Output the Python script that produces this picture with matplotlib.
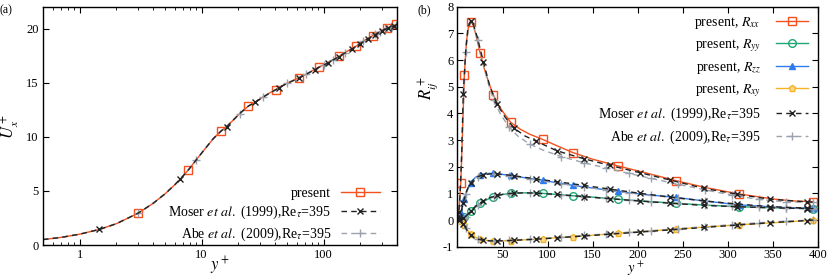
import numpy as np
import matplotlib
matplotlib.use('Agg')
import matplotlib.pyplot as plt
from matplotlib.ticker import FixedLocator, FuncFormatter, LogLocator, NullFormatter

plt.rcParams['font.family'] = ['Liberation Serif', 'DejaVu Serif']
plt.rcParams['mathtext.fontset'] = 'stix'

# ---- panel (a): mean velocity, shared y+ grid ----
yp_a = [0.5, 0.7, 1.0, 1.45, 2.0, 3.0, 4.0, 5.0, 6.0, 6.7, 7.8, 9.0, 10.5, 12.5, 14.5, 16.0,
        18.0, 20.5, 24.2, 27.4, 32.0, 36.0, 40.5, 43.2, 50.0, 56.0, 62.4, 72.0, 85.0, 91.4,
        100.0, 108.0, 120.0, 134.0, 150.0, 170.0, 186.0, 198.0, 212.0, 230.0, 253.0, 265.0,
        290.0, 300.0, 330.0, 340.0, 365.0, 375.0, 395.0]
U_present = [0.50, 0.70, 1.00, 1.44, 1.97, 2.93, 3.85, 4.72, 5.55, 6.10, 6.95, 7.85, 8.80, 9.85,
             10.55, 10.95, 11.50, 12.15, 12.85, 13.20, 13.70, 14.05, 14.37, 14.56, 14.95, 15.20,
             15.45, 15.80, 16.25, 16.45, 16.65, 16.85, 17.15, 17.45, 17.80, 18.15, 18.40, 18.62,
             18.85, 19.10, 19.35, 19.50, 19.75, 19.85, 20.07, 20.12, 20.25, 20.30, 20.40]
U_moser = [0.50, 0.70, 1.00, 1.44, 1.97, 2.93, 3.85, 4.72, 5.55, 6.12, 6.95, 7.85, 8.80, 9.85,
           10.55, 10.92, 11.50, 12.15, 12.85, 13.18, 13.68, 14.03, 14.35, 14.55, 14.93, 15.18,
           15.43, 15.78, 16.22, 16.42, 16.62, 16.82, 17.12, 17.42, 17.76, 18.10, 18.36, 18.58,
           18.80, 19.05, 19.30, 19.45, 19.70, 19.80, 20.00, 20.05, 20.18, 20.22, 20.30]
U_abe = [0.50, 0.70, 1.00, 1.44, 1.97, 2.93, 3.85, 4.72, 5.55, 6.10, 6.95, 7.85, 8.80, 9.85,
         10.55, 10.93, 11.50, 12.15, 12.85, 13.18, 13.70, 14.05, 14.36, 14.55, 14.95, 15.20,
         15.45, 15.80, 16.23, 16.43, 16.64, 16.84, 17.14, 17.44, 17.78, 18.12, 18.38, 18.60,
         18.82, 19.08, 19.32, 19.47, 19.72, 19.82, 20.04, 20.08, 20.20, 20.25, 20.32]
mk_present_a = [5, 10, 14, 18, 22, 26, 29, 33, 36, 40, 44, 48]
mk_moser_a = [3, 9, 15, 19, 23, 26, 28, 31, 33, 35, 37, 39, 41, 43, 45, 47]
mk_abe_a = [5, 11, 17, 20, 24, 27, 30, 32, 34, 38, 41, 42, 44, 46, 48]

# ---- panel (b): Reynolds stresses ----
yp_b = [0, 1, 2, 3.6, 5, 7.6, 10, 12, 14.7, 17, 20, 25, 30, 35, 39.8, 45, 50, 59, 70, 80,
        94.7, 110, 128, 150, 178, 210, 242, 275, 312, 350, 375, 394]
Rxx = [0, 0.14, 0.55, 1.38, 2.7, 5.45, 6.7, 7.2, 7.42, 7.35, 7.0, 6.28, 5.65, 5.12, 4.69, 4.33,
       4.08, 3.66, 3.40, 3.22, 3.02, 2.79, 2.53, 2.28, 2.03, 1.76, 1.48, 1.22, 0.98, 0.79, 0.71, 0.69]
Ryy = [0, 0.0, 0.01, 0.03, 0.05, 0.10, 0.17, 0.23, 0.32, 0.40, 0.48, 0.62, 0.72, 0.80, 0.87, 0.92,
       0.96, 1.00, 1.02, 1.02, 1.00, 0.96, 0.91, 0.86, 0.78, 0.70, 0.63, 0.56, 0.50, 0.46, 0.44, 0.43]
Rzz = [0, 0.02, 0.08, 0.25, 0.42, 0.80, 1.05, 1.20, 1.38, 1.50, 1.60, 1.69, 1.73, 1.75, 1.75, 1.73,
       1.71, 1.67, 1.61, 1.56, 1.49, 1.40, 1.30, 1.20, 1.07, 0.95, 0.85, 0.71, 0.57, 0.49, 0.45, 0.44]
Rxy = [0, 0.0, -0.01, -0.04, -0.08, -0.20, -0.32, -0.42, -0.52, -0.59, -0.65, -0.71, -0.75, -0.77,
       -0.78, -0.78, -0.78, -0.77, -0.75, -0.73, -0.70, -0.66, -0.62, -0.57, -0.50, -0.42, -0.34,
       -0.26, -0.18, -0.10, -0.05, -0.01]
mk_present_b = [3, 5, 8, 11, 14, 17, 20, 22, 24, 26, 28, 31]

yp_moser = [0, 1.5, 3, 4.5, 6.4, 9, 11.5, 14.7, 18, 22, 28.7, 36, 44, 53, 63, 75, 87, 110, 140,
            169, 203, 236, 273, 310, 347, 388, 395]
Rxx_moser = [0, 0.3, 1.05, 2.3, 4.72, 6.3, 7.2, 7.48, 7.3, 6.85, 5.94, 5.0, 4.34, 3.85, 3.44, 3.15,
             2.96, 2.6, 2.3, 2.05, 1.77, 1.5, 1.19, 0.97, 0.78, 0.68, 0.67]
Ryy_moser = [0, 0.0, 0.01, 0.03, 0.06, 0.13, 0.22, 0.33, 0.45, 0.57, 0.72, 0.84, 0.92, 0.98, 1.01,
             1.02, 1.01, 0.96, 0.88, 0.80, 0.71, 0.63, 0.55, 0.50, 0.46, 0.43, 0.43]
Rzz_moser = [0, 0.06, 0.20, 0.38, 0.65, 0.98, 1.20, 1.38, 1.52, 1.62, 1.70, 1.73, 1.73, 1.70, 1.66,
             1.60, 1.54, 1.44, 1.30, 1.16, 1.00, 0.86, 0.72, 0.60, 0.50, 0.45, 0.44]
Rxy_moser = [0, 0.0, -0.03, -0.07, -0.15, -0.30, -0.44, -0.56, -0.65, -0.71, -0.76, -0.78, -0.78,
             -0.78, -0.76, -0.74, -0.72, -0.67, -0.60, -0.53, -0.45, -0.37, -0.28, -0.19, -0.10,
             -0.02, 0.0]
mk_moser_b = [1, 4, 7, 10, 12, 14, 16, 17, 18, 19, 20, 21, 22, 23, 24, 25]

yp_abe = [0, 1, 2.5, 4, 6, 9.1, 12, 15, 18.5, 22.4, 27, 33, 40, 48, 57, 67, 80, 95, 115, 140, 165,
          190, 215, 245, 275, 305, 335, 365, 395]
Rxx_abe = [0, 0.14, 0.8, 1.9, 3.8, 6.31, 7.15, 7.45, 7.2, 6.75, 6.05, 5.25, 4.5, 3.95, 3.5, 3.15,
           2.85, 2.62, 2.38, 2.15, 1.95, 1.75, 1.56, 1.34, 1.13, 0.93, 0.77, 0.68, 0.66]
Ryy_abe = [0, 0.0, 0.01, 0.03, 0.05, 0.13, 0.23, 0.34, 0.46, 0.58, 0.68, 0.79, 0.88, 0.95, 0.99,
           1.01, 1.01, 0.98, 0.93, 0.87, 0.81, 0.75, 0.69, 0.62, 0.56, 0.51, 0.47, 0.44, 0.43]
Rzz_abe = [0, 0.02, 0.15, 0.33, 0.60, 0.98, 1.21, 1.40, 1.54, 1.63, 1.70, 1.73, 1.73, 1.70, 1.66,
           1.61, 1.54, 1.46, 1.36, 1.24, 1.13, 1.02, 0.93, 0.82, 0.71, 0.61, 0.52, 0.46, 0.44]
Rxy_abe = [0, 0.0, -0.02, -0.06, -0.13, -0.30, -0.45, -0.57, -0.66, -0.72, -0.76, -0.78, -0.78,
           -0.78, -0.76, -0.74, -0.72, -0.69, -0.64, -0.58, -0.52, -0.46, -0.40, -0.32, -0.25,
           -0.17, -0.10, -0.04, 0.0]
mk_abe_b = [5, 9, 12, 14, 16, 18, 19, 20, 21, 22, 23, 24, 25, 26, 27, 28]

c_xx, c_yy, c_zz, c_xy = '#f4511e', '#1fa774', '#2f7cf0', '#f5b324'
c_abe = '#9aa3ad'
lbl_moser = r'Moser $\it{et\ al.}$ (1999),Re$_\tau$=395'
lbl_abe = r'Abe $\it{et\ al.}$ (2009),Re$_\tau$=395'

fig = plt.figure(figsize=(8.3, 2.78), dpi=100)
ax1 = fig.add_axes([0.0518, 0.1187, 0.4265, 0.856])
ax2 = fig.add_axes([0.5512, 0.1126, 0.4343, 0.8633])

# panel (a)
ax1.plot(yp_a, U_present, '-', color=c_xx, lw=1.0, marker='s', ms=5.5, mfc='none', mew=1.0,
         markevery=mk_present_a, label='present')
ax1.plot(yp_a, U_abe, '--', color=c_abe, lw=1.0, dashes=(4, 3), marker='+', ms=5.5, mew=1.0,
         markevery=mk_abe_a, label=lbl_abe)
ax1.plot(yp_a, U_moser, '--', color='#222222', lw=1.0, dashes=(4, 3), marker='x', ms=5, mew=1.0,
         markevery=mk_moser_a, label=lbl_moser)
ax1.set_xscale('log')
ax1.set_xlim(0.5, 400)
ax1.set_ylim(0, 22)
ax1.xaxis.set_major_locator(FixedLocator([1, 10, 100]))
ax1.xaxis.set_major_formatter(FuncFormatter(lambda v, p: '%d' % v))
ax1.xaxis.set_minor_locator(LogLocator(base=10, subs=np.arange(2, 10)))
ax1.xaxis.set_minor_formatter(NullFormatter())
ax1.set_yticks([0, 5, 10, 15, 20])
ax1.set_xlabel('$y^+$', fontsize=12)
ax1.xaxis.set_label_coords(0.5, -0.04)
ax1.set_ylabel('$U_x^+$', fontsize=12)
ax1.yaxis.set_label_coords(-0.058, 0.5)
h, l = ax1.get_legend_handles_labels()
ax1.legend([h[0], h[2], h[1]], [l[0], l[2], l[1]], loc='lower right', bbox_to_anchor=(0.975, -0.025),
           frameon=False, markerfirst=False, fontsize=10, handlelength=2.8, handletextpad=0.7,
           labelspacing=0.3, borderaxespad=0.2)

# panel (b)
for R, c, m, ms, mfc, lab in [(Rxx, c_xx, 's', 5.5, 'none', r'present, $R_{xx}$'),
                               (Ryy, c_yy, 'o', 5.5, 'none', r'present, $R_{yy}$'),
                               (Rzz, c_zz, '^', 4.5, c_zz, r'present, $R_{zz}$'),
                               (Rxy, c_xy, 'p', 4.5, '#ffd88a', r'present, $R_{xy}$')]:
    ax2.plot(yp_b, R, '-', color=c, lw=1.0, marker=m, ms=ms, mfc=mfc, mew=1.0,
             markevery=mk_present_b, label=lab)
for i, R in enumerate([Rxx_abe, Ryy_abe, Rzz_abe, Rxy_abe]):
    ax2.plot(yp_abe, R, '--', color=c_abe, lw=1.0, dashes=(4, 3), marker='+', ms=5.5, mew=1.0,
             markevery=mk_abe_b, label=lbl_abe if i == 0 else None)
for i, R in enumerate([Rxx_moser, Ryy_moser, Rzz_moser, Rxy_moser]):
    ax2.plot(yp_moser, R, '--', color='#222222', lw=1.0, dashes=(4, 3), marker='x', ms=5, mew=1.0,
             markevery=mk_moser_b, label=lbl_moser if i == 0 else None)
ax2.set_xlim(0, 400)
ax2.set_ylim(-1, 8)
ax2.set_xticks([50, 100, 150, 200, 250, 300, 350, 400])
ax2.set_yticks(list(range(-1, 9)))
ax2.yaxis.set_major_formatter(FuncFormatter(lambda v, p: '%d' % v))
ax2.set_xlabel('$y^+$', fontsize=10.5)
ax2.xaxis.set_label_coords(0.495, -0.053)
ax2.set_ylabel('$R_{ij}^+$', fontsize=12)
ax2.yaxis.set_label_coords(-0.045, 0.66)
h, l = ax2.get_legend_handles_labels()
ax2.legend([h[0], h[1], h[2], h[3], h[5], h[4]], [l[0], l[1], l[2], l[3], l[5], l[4]],
           loc='upper right', bbox_to_anchor=(0.995, 1.0), frameon=False, markerfirst=False,
           fontsize=10, handlelength=2.3, handletextpad=1.1, labelspacing=0.45, borderaxespad=0.2)

for ax in (ax1, ax2):
    ax.tick_params(which='both', direction='in', top=True, right=True, labelsize=9, pad=3)
    ax.tick_params(which='major', length=4, width=0.8)
    ax.tick_params(which='minor', length=2, width=0.6)
    for s in ax.spines.values():
        s.set_linewidth(1.0)
ax2.tick_params(axis='x', pad=1.5)

fig.text(0.0, 0.985, '(a)', fontsize=8.5, va='top', ha='left')
fig.text(0.5025, 0.985, '(b)', fontsize=8.5, va='top', ha='left')

fig.savefig('out.png', dpi=100)
